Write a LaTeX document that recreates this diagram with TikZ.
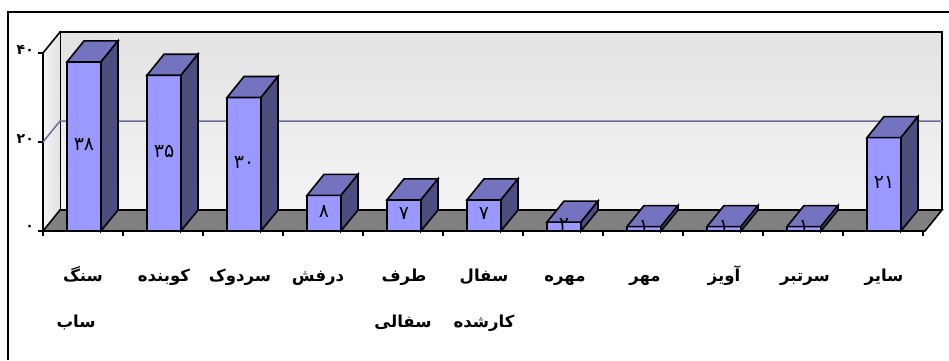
\documentclass[tikz,border=0pt]{standalone}
\usepackage{fontspec}
\TeXXeTstate=1
\newfontfamily\arabicfont[Script=Arabic]{DejaVu Sans}
\usetikzlibrary{calc}
\definecolor{barfront}{HTML}{9999FF}
\definecolor{bartop}{HTML}{7373C0}
\definecolor{barside}{HTML}{4D4D80}
\definecolor{floorgray}{HTML}{808080}
\definecolor{gridc}{HTML}{6A6AA0}
\definecolor{wallA}{HTML}{E2E2E2}
\definecolor{wallB}{HTML}{F4F4F4}
\begin{document}
\begin{tikzpicture}[x=1pt,y=-1pt,
  edge/.style={draw=black,line width=1.6pt,line join=miter},
  vlabel/.style={inner sep=0pt,font=\arabicfont\fontsize{19}{21}\selectfont},
  ylabel/.style={inner sep=0pt,anchor=east,font=\arabicfont\bfseries\fontsize{14}{16}\selectfont},
  clabel/.style={inner sep=0pt,anchor=base,font=\arabicfont\bfseries\fontsize{16.5}{19}\selectfont}]
\useasboundingbox (0,0) rectangle (949,360);
\fill[white] (0,0) rectangle (949,360);
% outer frame
\coordinate (fbl) at (8,360);
\coordinate (ftl) at (8,12);
\coordinate (ftr) at (949,12);
\draw[line width=1.5pt] (fbl) -- (ftl) -- (ftr);
% key corners of the plot box
\coordinate (lfb) at (43,231);   % left front bottom
\coordinate (lft) at (43,53);    % left front top
\coordinate (lbb) at (60,210);   % left back bottom
\coordinate (lbt) at (60,32);    % left back top
\coordinate (rbt) at (942,32);   % right back top
\coordinate (rbb) at (942,210);  % right back bottom
\coordinate (rfb) at (925,231);  % right front bottom
% back wall
\shade[top color=wallA,bottom color=wallB] (lbt) rectangle (rbb);
\draw[edge] (lbb) -- (lbt) -- (rbt) -- (rbb);
% left wall
\shade[left color=wallB,right color=wallA] (lfb) -- (lft) -- (lbt) -- (lbb) -- cycle;
\draw[edge] (lfb) -- (lft) -- (lbt);
% gridline at 20
\coordinate (g1) at (43,142);
\coordinate (g2) at (60,121);
\coordinate (g3) at (942,121);
\draw[gridc,line width=1.5pt] (g1) -- (g2) -- (g3);
% floor
\filldraw[fill=floorgray,edge] (lfb) -- (lbb) -- (rbb) -- (rfb) -- cycle;
% y axis ticks and labels
\foreach \yy/\lab/\nm in {231/۰/y0,142/۲۰/y20,53/۴۰/y40}{
  \coordinate (t\nm) at (38,\yy);
  \draw[line width=1.4pt] (t\nm) -- (43,\yy);
  \node[ylabel] (\nm) at (34,\yy-3) {\lab};
}
% x axis ticks
\foreach \k in {0,...,11}{
  \coordinate (xt\k) at ({43+80*\k},231);
  \draw[line width=1.4pt] (xt\k) -- ++(0,5);
}
% bars
\foreach \i/\v/\t in {0/38/۳۸,1/35/۳۵,2/30/۳۰,3/8/۸,4/7/۷,5/7/۷,6/2/۲,7/1/۱,8/1/۱,9/1/۱,10/21/۲۱}{
  \pgfmathsetmacro\c{83+80*\i}
  \pgfmathsetmacro\yt{231-4.45*\v}
  \pgfmathsetmacro\xl{\c-16}
  \pgfmathsetmacro\xr{\c+18}
  \filldraw[fill=barfront,edge] (\xl,\yt) rectangle (\xr,231);
  \filldraw[fill=bartop,edge] (\xl,\yt) -- ++(17,-21) -- ++(34,0) -- (\xr,\yt) -- cycle;
  \filldraw[fill=barside,edge] (\xr,\yt) -- ++(17,-21) -- ({\xr+17},210) -- (\xr,231) -- cycle;
  \node[vlabel] (v\i) at ({\c+1},{(\yt+231)/2-2}) {\t};
}
% category labels
\node[clabel] (c0a) at (83,281) {\beginR سنگ\endR};
\node[clabel] (c0b) at (76,327) {\beginR ساب\endR};
\node[clabel] (c1) at (164,281) {\beginR کوبنده\endR};
\node[clabel] (c2) at (240,281) {\beginR سردوک\endR};
\node[clabel] (c3) at (318,281) {\beginR درفش\endR};
\node[clabel] (c4a) at (404,281) {\beginR طرف\endR};
\node[clabel] (c4b) at (403,327) {\beginR سفالی\endR};
\node[clabel] (c5a) at (484,281) {\beginR سفال\endR};
\node[clabel] (c5b) at (484,327) {\beginR کارشده\endR};
\node[clabel] (c6) at (565,281) {\beginR مهره\endR};
\node[clabel] (c7) at (645,281) {\beginR مهر\endR};
\node[clabel] (c8) at (724,281) {\beginR آویز\endR};
\node[clabel] (c9) at (805,281) {\beginR سرتبر\endR};
\node[clabel] (c10) at (884,281) {\beginR سایر\endR};
\end{tikzpicture}
\end{document}
